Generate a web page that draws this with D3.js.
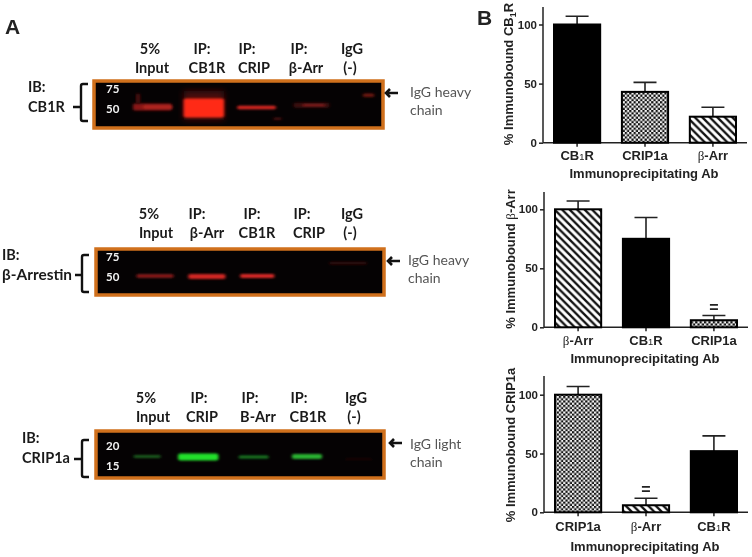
<!DOCTYPE html>
<html><head><meta charset="utf-8">
<script src="https://cdn.jsdelivr.net/npm/d3@7"></script>
<style>
html,body{margin:0;padding:0;background:#fff}
svg{display:block;filter:blur(0.35px)}
.lato{font-family:Lato,"Open Sans",sans-serif}
.ar{font-family:"Liberation Sans",Arial,sans-serif;font-weight:700;fill:#222}
</style></head><body>
<svg id="c" width="752" height="557"></svg>
<script>
// ---------- bar chart data ----------
const chart1Categories = ["CB1R","CRIP1a","β-Arr"];
const chart1Values = [100,43,22];
const chart1Errors = [107,51,30];
const chart2Categories = ["β-Arr","CB1R","CRIP1a"];
const chart2Values = [100,75,6];
const chart2Errors = [107,93,10];
const chart2Marks = ["","","="];
const chart3Categories = ["CRIP1a","β-Arr","CB1R"];
const chart3Values = [100,6,52];
const chart3Errors = [107,12,65];
const chart3Marks = ["","=",""];
const yTicks = [0,50,100];
const xTitle = "Immunoprecipitating Ab";
// ---------- blot data: band start / end (% of lane width), kDa, thickness, colour ----------
const blot1Start = [13.5,17,31,49.5,69,93,62,14.5,72];
const blot1End = [27,27,45,63,81.5,97,65,16,80];
const blot1Kda = [52,52,51,51.5,54,66,41,62,54];
const blot1Thick = [7,3,19,3.5,5,3.5,1.5,10,1.5];
const blot1Color = ["#8a1612","#b82a22","#ff2a12","#d82820","#3a0a0a","#701410","#701414","#4a0c0c","#a82020"];
const blot2Start = [14,32,50,81];
const blot2End = [27,45,62,94];
const blot2Kda = [51,50.5,51,66];
const blot2Thick = [3.5,5,4,2.5];
const blot2Color = ["#8e1a1a","#d02824","#d82a26","#340c0c"];
const blot3Start = [13,28.5,49.5,68,86.5];
const blot3End = [22.5,42.5,60,78.5,96];
const blot3Kda = [17.2,17.1,17.1,17.2,16.5];
const blot3Thick = [2.5,7,3,5,1];
const blot3Color = ["#1c6a22","#22e02a","#1a7a22","#2ab030","#2e0e0e"];

const blot1Heads = [["5%","Input"],["IP:","CB1R"],["IP:","CRIP"],["IP:","β-Arr"],["IgG","(-)"]];
const blot2Heads = [["5%","Input"],["IP:","β-Arr"],["IP:","CB1R"],["IP:","CRIP"],["IgG","(-)"]];
const blot3Heads = [["5%","Input"],["IP:","CRIP"],["IP:","B-Arr"],["IP:","CB1R"],["IgG","(-)"]];

const svg = d3.select("#c");
const defs = svg.append("defs");
const f = defs.append("filter").attr("id","b").attr("x","-20%").attr("y","-150%").attr("width","140%").attr("height","400%");
f.append("feGaussianBlur").attr("stdDeviation","1.5 1.1");
const f2 = defs.append("filter").attr("id","b2").attr("x","-50%").attr("y","-50%").attr("width","200%").attr("height","200%");
f2.append("feGaussianBlur").attr("stdDeviation","3");
// fill patterns
const P = 7.5;
const hatch = defs.append("pattern").attr("id","hatch").attr("patternUnits","userSpaceOnUse").attr("width",P).attr("height",P);
hatch.append("rect").attr("width",P).attr("height",P).attr("fill","#fff");
hatch.append("path").attr("d",`M-2,-2L${P+2},${P+2}M-2,${P-2}L2,${P+2}M${P-2},-2L${P+2},2`).attr("stroke","#111").attr("stroke-width",2.3);
const check = defs.append("pattern").attr("id","check").attr("patternUnits","userSpaceOnUse").attr("width",4.4).attr("height",4.4);
check.append("rect").attr("width",4.4).attr("height",4.4).attr("fill","#f4f4f4");
check.append("rect").attr("width",2.2).attr("height",2.2).attr("fill","#111");
check.append("rect").attr("x",2.2).attr("y",2.2).attr("width",2.2).attr("height",2.2).attr("fill","#111");
const fills = {"CB1R":"#000","CRIP1a":"url(#check)","β-Arr":"url(#hatch)"};

function rich(sel,label){
  sel.text(null);
  if(label.includes("β")){
    sel.append("tspan").attr("font-family","'Liberation Serif',serif").attr("font-weight",400).text("β");
    sel.append("tspan").text(label.slice(1));
  } else if(label==="CB1R"){
    sel.append("tspan").text("CB");
    sel.append("tspan").attr("font-size","0.72em").attr("font-weight",400).text("1");
    sel.append("tspan").text("R");
  } else sel.text(label);
}

function barChart(o){
  const g = svg.append("g");
  const y = d3.scaleLinear().domain([0,100]).range([o.y0,o.y100]);
  const x = d3.scaleBand().domain(o.cats).range([o.x0+11,o.x0+193]).paddingInner(0.32).paddingOuter(0);
  const yAxis = d3.axisLeft(y).tickValues(yTicks).tickSize(4).tickPadding(2);
  const ya = g.append("g").attr("transform",`translate(${o.x0},0)`).call(yAxis);
  ya.select(".domain").attr("d",`M0,${o.top}V${o.y0}`);
  const xAxis = d3.axisBottom(x).tickSize(4).tickPadding(o.tickPad);
  const xa = g.append("g").attr("transform",`translate(0,${o.y0})`).call(xAxis);
  xa.select(".domain").attr("d",`M${o.x0},0H${o.x1}`);
  [ya,xa].forEach(a=>{a.selectAll("path,line").attr("stroke","#222").attr("stroke-width",1.5);
    a.selectAll("text").attr("class","ar");});
  ya.selectAll("text").attr("font-size",11.5);
  xa.selectAll("text").attr("font-size",13).each(function(d){rich(d3.select(this),d);});
  g.selectAll(".eb").data(o.cats).join("path").attr("fill","none").attr("stroke","#222").attr("stroke-width",1.6)
    .attr("d",(c,i)=>{const m=x(c)+x.bandwidth()/2;return `M${m},${y(o.vals[i])}V${y(o.errs[i])}M${m-11.5},${y(o.errs[i])}H${m+11.5}`;});
  g.selectAll(".bar").data(o.cats).join("rect")
    .attr("x",c=>x(c)).attr("width",x.bandwidth())
    .attr("y",(c,i)=>y(o.vals[i])).attr("height",(c,i)=>o.y0-y(o.vals[i]))
    .attr("fill",c=>fills[c]).attr("stroke","#000").attr("stroke-width",2);
  if(o.marks) g.selectAll(".mk").data(o.cats).join("text").attr("class","ar").attr("font-size",16)
    .attr("text-anchor","middle").attr("x",c=>x(c)+x.bandwidth()/2)
    .attr("y",(c,i)=>y(o.errs[i])-3).text((c,i)=>o.marks[i]);
  g.append("text").attr("class","ar").attr("font-size",13).attr("text-anchor","middle")
    .attr("x",(o.x0+o.x1)/2-1).attr("y",o.titleY).text(xTitle);
  const t = g.append("text").attr("class","ar").attr("font-size",o.ySize).attr("text-anchor","middle")
    .attr("transform",`translate(${o.yTitleX},${o.yTitleC}) rotate(-90)`);
  t.append("tspan").text(o.yPre);
  if(o.ySub){t.append("tspan").text("CB");t.append("tspan").attr("font-size","0.7em").attr("dy",3).text("1");t.append("tspan").attr("dy",-3).text("R");}
  else if(o.beta){t.append("tspan").attr("font-family","'Liberation Serif',serif").attr("font-weight",400).text("β");t.append("tspan").text("-Arr");}
}

barChart({cats:chart1Categories,vals:chart1Values,errs:chart1Errors,x0:543,x1:747,y0:142.7,y100:24.5,top:7,tickPad:4,titleY:178,
  yPre:"% Immunobound ",ySub:true,yTitleX:513,yTitleC:74,ySize:13});
barChart({cats:chart2Categories,vals:chart2Values,errs:chart2Errors,marks:chart2Marks,x0:544,x1:748,y0:327.3,y100:209.3,top:192,tickPad:4,titleY:363,
  yPre:"% Immunobound ",beta:true,yTitleX:515,yTitleC:259,ySize:13});
barChart({cats:chart3Categories,vals:chart3Values,errs:chart3Errors,marks:chart3Marks,x0:544,x1:748,y0:512.3,y100:394.7,top:376,tickPad:5,titleY:551,
  yPre:"% Immunobound CRIP1a",yTitleX:515,yTitleC:445,ySize:13});

function blot(o){
  const g = svg.append("g");
  const w=o.x1-o.x0,h=o.y1-o.y0;
  g.append("rect").attr("x",o.x0).attr("y",o.y0).attr("width",w).attr("height",h)
    .attr("fill","#050203").attr("stroke","#d0701c").attr("stroke-width",3.5);
  const x=d3.scaleLinear().domain([0,100]).range([o.x0,o.x1]);
  const y=d3.scaleLog().domain(o.kda).range(o.kdaY);
  const clip="cp"+o.id;
  defs.append("clipPath").attr("id",clip).append("rect").attr("x",o.x0+2).attr("y",o.y0+2).attr("width",w-4).attr("height",h-4);
  const bands=g.append("g").attr("clip-path",`url(#${clip})`);
  if(o.halo) bands.append("rect").attr("x",x(o.halo[0])).attr("width",x(o.halo[1])-x(o.halo[0]))
    .attr("y",o.y0+10).attr("height",h-18).attr("fill",o.haloColor).attr("filter","url(#b2)");
  bands.selectAll(".bd").data(o.start).join("rect")
    .attr("x",d=>x(d)).attr("width",(d,i)=>x(o.end[i])-x(d))
    .attr("y",(d,i)=>y(o.kd[i])-o.th[i]/2).attr("height",(d,i)=>o.th[i])
    .attr("rx",2).attr("fill",(d,i)=>o.col[i]).attr("filter","url(#b)");
  g.selectAll(".mw").data(o.kda).join("text").attr("class","lato").attr("font-weight",700).attr("font-size",11.5)
    .attr("fill","#f2f2f2").attr("x",o.mwX).attr("y",d=>y(d)+4).text(d=>d);
  const HS=14.5;
  o.heads.forEach((hd,i)=>{
    g.append("text").attr("class","lato").attr("font-weight",700).attr("font-size",HS).attr("fill","#1a1a1a")
      .attr("text-anchor","middle").attr("x",o.h1X[i]).attr("y",o.h1Y).text(hd[0]);
    g.append("text").attr("class","lato").attr("font-weight",700).attr("font-size",HS).attr("fill","#1a1a1a")
      .attr("text-anchor","middle").attr("x",o.h2X[i]).attr("y",o.h1Y+19).text(hd[1]);
  });
  g.append("text").attr("class","lato").attr("font-weight",700).attr("font-size",HS).attr("fill","#1a1a1a").attr("x",o.ibX).attr("y",o.ibY).text("IB:");
  const ibt=g.append("text").attr("class","lato").attr("font-weight",700).attr("font-size",HS).attr("fill","#1a1a1a").attr("x",o.ibX).attr("y",o.ibY+19.5).text(o.ib);
  if(o.ibLen) ibt.attr("textLength",o.ibLen).attr("lengthAdjust","spacingAndGlyphs");
  const [bx,bt,bb,bm,bl]=o.br;
  g.append("path").attr("fill","none").attr("stroke","#111").attr("stroke-width",2.4)
    .attr("d",`M${bx+7},${bt}H${bx+2}Q${bx},${bt} ${bx},${bt+2}V${bb-2}Q${bx},${bb} ${bx+2},${bb}H${bx+7}M${bx},${bm}H${bl}`);
  const ax=o.ax,ay=o.ay;
  g.append("path").attr("fill","none").attr("stroke","#111").attr("stroke-width",2.6)
    .attr("d",`M${ax+13},${ay}H${ax+1}M${ax+5},${ay-4}L${ax+1},${ay}L${ax+5},${ay+4}`);
  o.note.forEach((n,i)=>g.append("text").attr("class","lato").attr("font-size",14).attr("fill","#555")
    .attr("x",o.noteX).attr("y",o.noteY+i*18).text(n));
}

blot({id:1,x0:94,x1:383,y0:81,y1:128,kda:[75,50],kdaY:[89,109],mwX:106,start:blot1Start,end:blot1End,kd:blot1Kda,th:blot1Thick,col:blot1Color,
  halo:[31,45],haloColor:"#4a0a08",heads:blot1Heads,h1X:[150,202,247,299,352],h2X:[152,207,254,306,350],h1Y:54,ib:"CB1R",ibX:28,ibY:92,
  br:[81,84,121,107,73],ax:385,ay:93,note:["IgG heavy","chain"],noteX:410,noteY:97});
blot({id:2,x0:96,x1:384,y0:249,y1:295,kda:[75,50],kdaY:[257,277],mwX:106,start:blot2Start,end:blot2End,kd:blot2Kda,th:blot2Thick,col:blot2Color,
  heads:blot2Heads,h1X:[149,197,252,302,352],h2X:[156,207,257,309,350],h1Y:219,ib:"β-Arrestin",ibLen:70,ibX:2,ibY:260,
  br:[82,255,292,275,75],ax:387,ay:261,note:["IgG heavy","chain"],noteX:408,noteY:265});
blot({id:3,x0:96,x1:384,y0:431,y1:478,kda:[20,15],kdaY:[446,466],mwX:106,start:blot3Start,end:blot3End,kd:blot3Kda,th:blot3Thick,col:blot3Color,
  heads:blot3Heads,h1X:[146,199,250,299,356],h2X:[153,202,258,308,354],h1Y:403,ib:"CRIP1a",ibX:22,ibY:443,
  br:[82,440,477,459,74],ax:389,ay:443,note:["IgG light","chain"],noteX:410,noteY:449});

svg.append("text").attr("class","ar").attr("font-size",21).attr("fill","#000").attr("x",5).attr("y",34).text("A");
svg.append("text").attr("class","ar").attr("font-size",21).attr("fill","#000").attr("x",477).attr("y",25).text("B");
</script>
</body></html>
